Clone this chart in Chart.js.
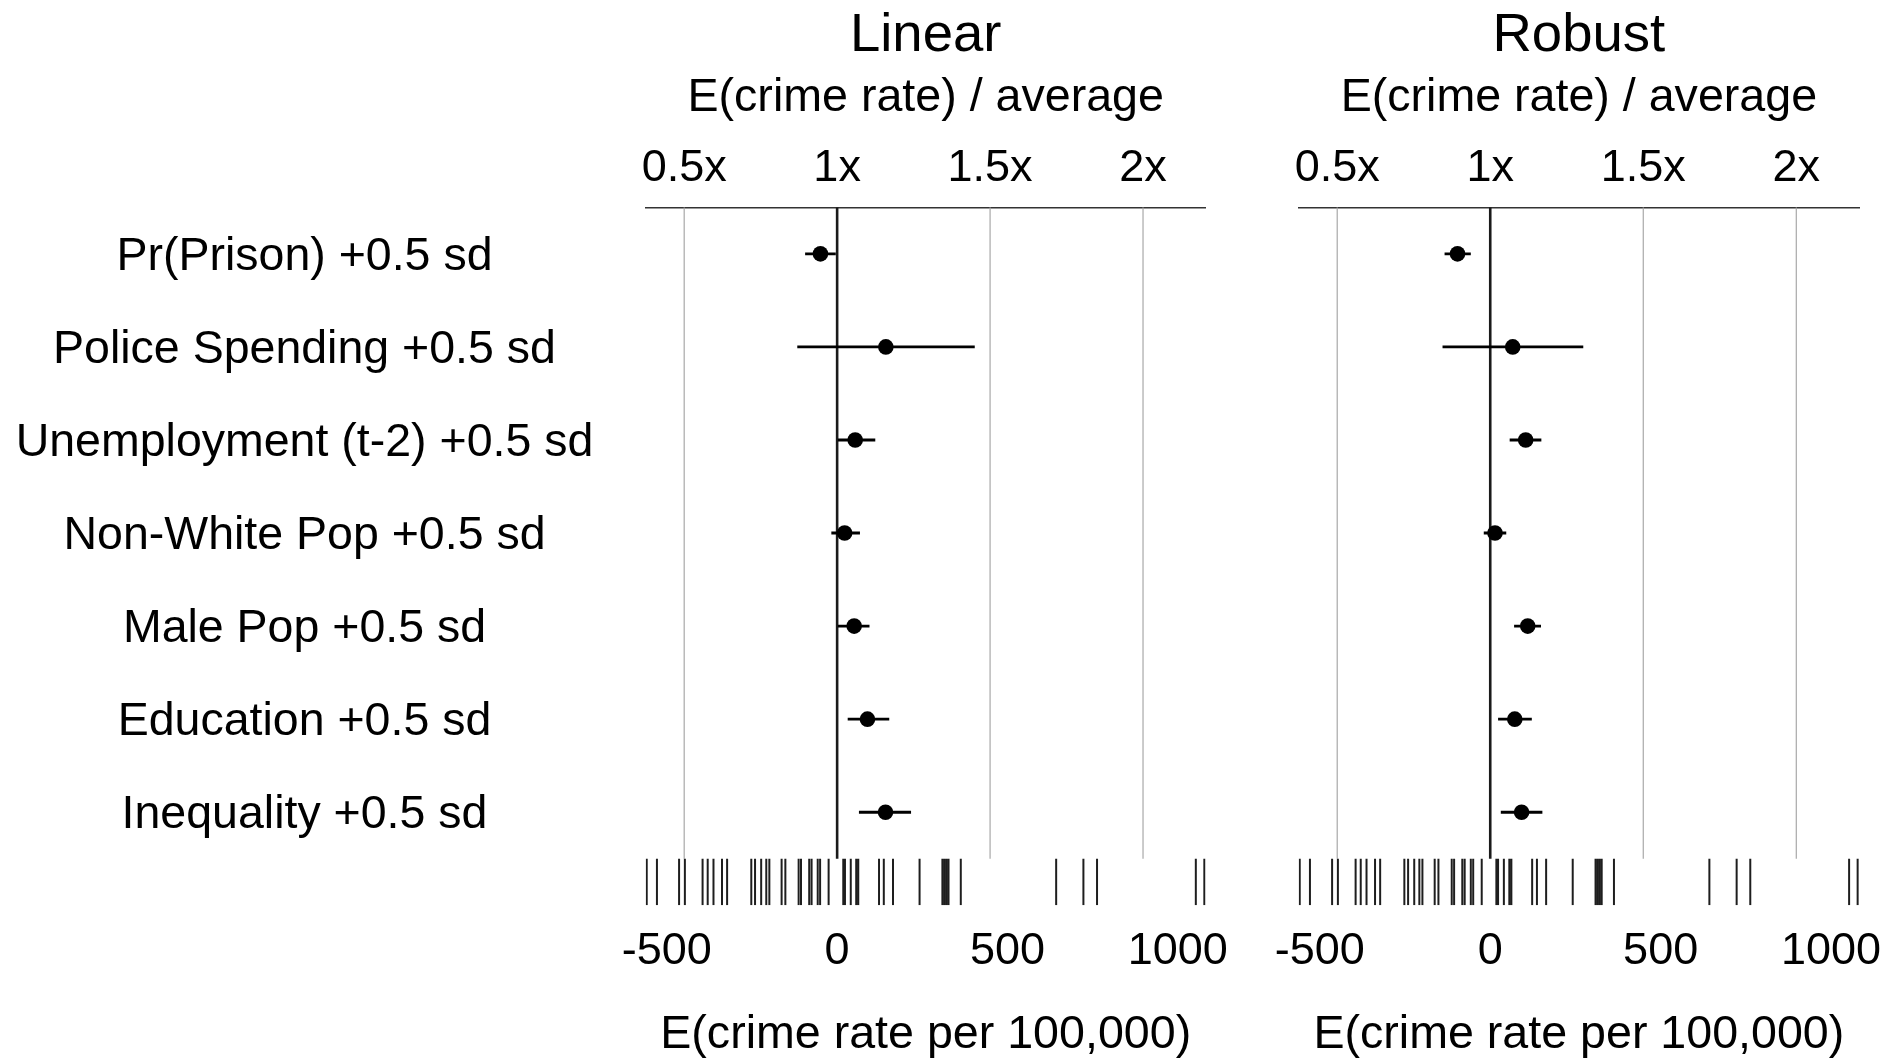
<!DOCTYPE html>
<html><head><meta charset="utf-8">
<script src="https://cdn.jsdelivr.net/npm/chart.js@4.4.1/dist/chart.umd.min.js"></script>
<style>
html,body{margin:0;padding:0;background:#fff;overflow:hidden;}
#wrap{position:relative;width:1889px;height:1058px;background:#fff;overflow:hidden;}
canvas{position:absolute;left:0;top:0;}
</style></head><body>
<div id="wrap"><canvas id="c1" width="1889" height="1063"></canvas><canvas id="c2" width="1920" height="1063"></canvas></div>
<script>
// ---- data ----
const categories = [
  'Pr(Prison) +0.5 sd',
  'Police Spending +0.5 sd',
  'Unemployment (t-2) +0.5 sd',
  'Non-White Pop +0.5 sd',
  'Male Pop +0.5 sd',
  'Education +0.5 sd',
  'Inequality +0.5 sd'
];
const linearEst = [-49, 143, 53, 22, 50, 89, 142];
const linearLo  = [-94, -117, 2, -17, 2, 31, 64];
const linearHi  = [-4, 404, 112, 67, 95, 153, 217];
const robustEst = [-96, 66, 104, 14, 110, 72, 92];
const robustLo  = [-134, -140, 57, -19, 70, 23, 31];
const robustHi  = [-57, 273, 150, 47, 149, 122, 153];
const rugValues = [-559, -529, -464, -447, -395, -380, -363, -338, -323, -252, -241, -223, -208, -199,
  -163, -152, -113, -106, -82, -75, -57, -50, -25, 18, 23, 40, 56, 62, 123, 137, 164, 242,
  309, 315, 321, 327, 363, 643, 723, 763, 1053, 1078];
const bottomTicks = [-500, 0, 500, 1000];
const topMultipliers = [0.5, 1, 1.5, 2];
const topTickLabels = ['0.5x', '1x', '1.5x', '2x'];
const averageCrimeRate = 898;
const panelTitles = ['Linear', 'Robust'];
const xMin = -562, xMax = 1082;

Chart.defaults.font.family = "'Liberation Sans', Arial, Helvetica, sans-serif";
Chart.defaults.color = '#000';

function segs(pairs) {
  const out = [];
  pairs.forEach(p => { out.push(p[0], p[1], {x: p[0].x, y: null}); });
  return out;
}

function makePanel(id, est, lo, hi, title, showY, padLeft, padRight) {
  const topVals = topMultipliers.map(m => (m - 1) * averageCrimeRate);
  const grayGrid = topVals.filter((v, i) => topMultipliers[i] !== 1);
  const refLine = topVals.filter((v, i) => topMultipliers[i] === 1);
  const datasets = [
    { type: 'line', data: segs(grayGrid.map(v => [{x: v, y: 0.5}, {x: v, y: 7.5}])),
      borderColor: '#a8a8a8', borderWidth: 1.2, pointRadius: 0, spanGaps: false, order: 5 },
    { type: 'line', data: segs(refLine.map(v => [{x: v, y: 0.5}, {x: v, y: 7.5}])),
      borderColor: '#1a1a1a', borderWidth: 2.6, pointRadius: 0, spanGaps: false, order: 4 },
    { type: 'line', data: segs(rugValues.map(v => [{x: v, y: 7.5}, {x: v, y: 8.0}])),
      borderColor: '#1e1e1e', borderWidth: 2.0, pointRadius: 0, spanGaps: false, order: 3 },
    { type: 'line', data: segs(est.map((e, i) => [{x: lo[i], y: i + 1}, {x: hi[i], y: i + 1}])),
      borderColor: '#000', borderWidth: 2.9, pointRadius: 0, spanGaps: false, order: 2 },
    { type: 'scatter', data: est.map((e, i) => ({x: e, y: i + 1})),
      backgroundColor: '#000', borderWidth: 0, pointRadius: 7.8, order: 1 }
  ];
  return new Chart(document.getElementById(id), {
    type: 'scatter',
    data: { datasets },
    options: {
      responsive: false, animation: false, devicePixelRatio: 1,
      layout: { padding: { left: padLeft, right: padRight, top: 0, bottom: 0 } },
      plugins: {
        legend: { display: false }, tooltip: { enabled: false },
        title: { display: true, text: title, color: '#000', fullSize: false,
          font: { size: 54.5, weight: 'normal' }, padding: { top: 3.7, bottom: 0 } }
      },
      scales: {
        x: { type: 'linear', position: 'bottom', min: xMin, max: xMax,
          grid: { display: false, drawTicks: false }, border: { display: false },
          afterBuildTicks: s => { s.ticks = bottomTicks.map(v => ({value: v})); },
          ticks: { padding: 19.6, font: { size: 45 }, color: '#000', maxRotation: 0, autoSkip: false,
            callback: v => String(v) },
          title: { display: true, text: 'E(crime rate per 100,000)', font: { size: 46.6 }, color: '#000',
            padding: { top: 8.4, bottom: 0.2 } } },
        x2: { type: 'linear', axis: 'x', position: 'top', min: xMin, max: xMax,
          grid: { display: false, drawTicks: false }, border: { display: true, color: '#333', width: 1.5 },
          afterBuildTicks: s => { s.ticks = topVals.map(v => ({value: v})); },
          ticks: { padding: 12.2, font: { size: 45 }, color: '#000', maxRotation: 0, autoSkip: false,
            callback: (v, i) => topTickLabels[i] },
          title: { display: true, text: 'E(crime rate) / average', font: { size: 46.6 }, color: '#000',
            padding: { top: 1.5, bottom: 2.4 } } },
        y: { type: 'linear', min: 0.5, max: 8.0, reverse: true, display: showY,
          grid: { display: false, drawTicks: false }, border: { display: false },
          afterBuildTicks: s => { s.ticks = categories.map((c, i) => ({value: i + 1})); },
          afterFit: s => { if (showY) s.width = 645.7; },
          ticks: { autoSkip: false, crossAlign: 'center', padding: 52.4, labelOffset: 3,
            font: { size: 46.5 }, color: '#000',
            callback: (v, i) => categories[i] } }
      }
    }
  });
}

makePanel('c1', linearEst, linearLo, linearHi, panelTitles[0], true, 0, 1889 - 1205.7);
makePanel('c2', robustEst, robustLo, robustHi, panelTitles[1], false, 1298.7, 1920 - 1859);
</script>
</body></html>
